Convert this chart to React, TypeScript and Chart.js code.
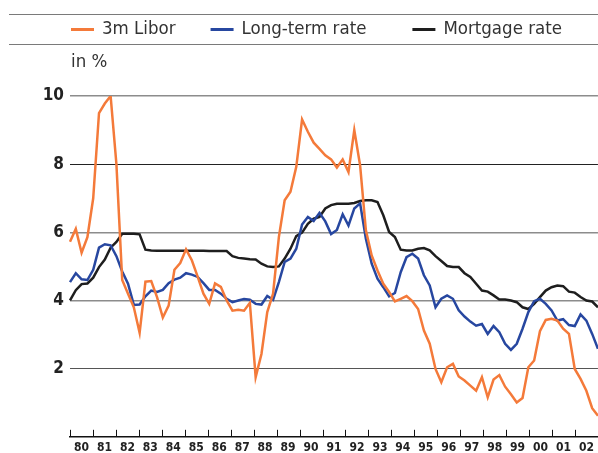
import React, { useEffect, useRef } from "react";
import { Chart, registerables } from "chart.js";

Chart.register(...registerables);

const FONT = '"DejaVu Sans Condensed", "DejaVu Sans", sans-serif';

const yearLabels = [
  "80", "81", "82", "83", "84", "85", "86", "87", "88", "89", "90", "91",
  "92", "93", "94", "95", "96", "97", "98", "99", "00", "01", "02",
];

const quarterLabels: string[] = [];
for (const y of yearLabels) {
  for (let q = 1; q <= 4; q++) quarterLabels.push(`${y}Q${q}`);
}

const libor = [
  5.72, 6.1, 5.4, 5.86, 7.0, 9.5, 9.78, 10.0,
  8.0, 4.6, 4.2, 3.8, 3.05, 4.55, 4.57, 4.1,
  3.5, 3.85, 4.9, 5.1, 5.5, 5.18, 4.7, 4.2,
  3.9, 4.5, 4.4, 4.0, 3.7, 3.73, 3.7, 3.93,
  1.75, 2.43, 3.66, 4.2, 5.86, 6.94, 7.19, 7.92,
  9.31, 8.95, 8.63, 8.45, 8.26, 8.14, 7.9, 8.14,
  7.77, 9.0, 7.97, 6.06, 5.32, 4.88, 4.49, 4.25,
  3.97, 4.05, 4.13, 3.98, 3.75, 3.12, 2.73, 1.99,
  1.6, 2.04, 2.14, 1.77, 1.65, 1.5, 1.35, 1.75,
  1.16, 1.68, 1.81, 1.47, 1.25, 1.01, 1.14, 2.04,
  2.24, 3.1, 3.43, 3.46, 3.41, 3.17, 3.02, 1.99,
  1.7, 1.35, 0.84, 0.62,
];

const longTerm = [
  4.54, 4.8, 4.62, 4.6, 4.9, 5.55, 5.65, 5.62,
  5.3, 4.85, 4.49, 3.87, 3.88, 4.12, 4.29, 4.25,
  4.31, 4.51, 4.61, 4.67, 4.8, 4.76, 4.69, 4.51,
  4.31, 4.31, 4.2, 4.05, 3.95, 4.0, 4.04, 4.02,
  3.9, 3.88, 4.13, 4.02, 4.54, 5.13, 5.23, 5.52,
  6.23, 6.45, 6.33, 6.57, 6.32, 5.95, 6.07, 6.53,
  6.2, 6.7, 6.85, 5.81, 5.08, 4.64, 4.39, 4.12,
  4.22, 4.83, 5.27, 5.37, 5.23, 4.74, 4.44, 3.8,
  4.05, 4.15, 4.05, 3.71, 3.53, 3.38, 3.26, 3.31,
  3.02, 3.25, 3.07, 2.73, 2.55, 2.73, 3.17, 3.66,
  3.98, 4.05, 3.9, 3.71, 3.41, 3.45, 3.28, 3.25,
  3.59, 3.41, 3.02, 2.58,
];

const mortgage = [
  4.0, 4.3, 4.48, 4.5, 4.67, 4.98, 5.2, 5.55,
  5.72, 5.96, 5.96, 5.96, 5.94, 5.49, 5.47, 5.46,
  5.46, 5.46, 5.46, 5.46, 5.46, 5.46, 5.46, 5.46,
  5.45, 5.45, 5.45, 5.45, 5.3, 5.25, 5.23, 5.21,
  5.2, 5.08, 5.0, 4.98, 5.0, 5.23, 5.52, 5.89,
  5.99, 6.25, 6.4, 6.45, 6.7, 6.8, 6.84, 6.84,
  6.84, 6.86, 6.92, 6.94, 6.94, 6.89, 6.5, 6.01,
  5.86, 5.49, 5.47, 5.47, 5.52, 5.54, 5.47, 5.3,
  5.16, 5.01, 4.98, 4.98, 4.8, 4.69, 4.49, 4.29,
  4.26, 4.15, 4.03, 4.03, 4.0, 3.95, 3.8, 3.75,
  3.9, 4.1, 4.29, 4.39, 4.44, 4.42, 4.26, 4.23,
  4.1, 4.0, 3.97, 3.8,
];

const seriesNames = ["3m Libor", "Long-term rate", "Mortgage rate"];
const seriesColors = ["#F47A3A", "#2747A0", "#1E1E1E"];
const unitLabel = "in %";
const legendGaps = [35, 46, 0];

const headerPlugin = {
  id: "header",
  afterDraw(chart: any) {
    const ctx = chart.ctx as CanvasRenderingContext2D;
    const area = chart.chartArea;
    ctx.save();
    // rules around legend
    ctx.strokeStyle = "#7a7a7a";
    ctx.lineWidth = 1.2;
    for (const y of [14.5, 44.5]) {
      ctx.beginPath();
      ctx.moveTo(9, y);
      ctx.lineTo(chart.width, y);
      ctx.stroke();
    }
    // legend items
    ctx.font = `18.5px ${FONT}`;
    ctx.textBaseline = "middle";
    ctx.textAlign = "left";
    let x = area.left + 1;
    const ly = 29.5;
    chart.data.datasets.forEach((ds: any, i: number) => {
      ctx.strokeStyle = ds.borderColor;
      ctx.lineWidth = 3;
      ctx.beginPath();
      ctx.moveTo(x, ly);
      ctx.lineTo(x + 23, ly);
      ctx.stroke();
      ctx.fillStyle = "#333333";
      ctx.fillText(ds.label, x + 31, ly);
      x += 31 + ctx.measureText(ds.label).width + legendGaps[i];
    });
    // unit label
    ctx.fillText(unitLabel, area.left + 1, 62);
    // upward tick marks on the year axis
    const ys = chart.scales.years;
    ctx.strokeStyle = "#111111";
    ctx.lineWidth = 1;
    for (let i = 0; i <= yearLabels.length; i++) {
      const px = Math.round(ys.getPixelForValue(i - 0.5)) + 0.5;
      ctx.beginPath();
      ctx.moveTo(px, area.bottom);
      ctx.lineTo(px, area.bottom - 7);
      ctx.stroke();
    }
    ctx.restore();
  },
};

const gridStyle: Record<number, [string, number]> = {
  10: ["#8c8c8c", 1.5],
  8: ["#222222", 1],
  6: ["#8c8c8c", 1.5],
  4: ["#8c8c8c", 1.5],
  2: ["#555555", 1],
};

export default function App() {
  const ref = useRef<HTMLCanvasElement | null>(null);
  useEffect(() => {
    document.body.style.margin = "0";
    const canvas = ref.current!;
    const chart = new Chart(canvas, {
      type: "line",
      data: {
        labels: quarterLabels,
        datasets: [
          { label: seriesNames[0], data: libor, borderColor: seriesColors[0] },
          { label: seriesNames[1], data: longTerm, borderColor: seriesColors[1] },
          { label: seriesNames[2], data: mortgage, borderColor: seriesColors[2] },
        ].map((d) => ({
          ...d,
          backgroundColor: d.borderColor,
          borderWidth: 2.5,
          pointRadius: 0,
          tension: 0,
          fill: false,
        })),
      },
      options: {
        animation: false,
        responsive: false,
        layout: { padding: { top: 96, left: 0, right: 0, bottom: 0 } },
        plugins: {
          legend: { display: false },
          tooltip: { enabled: false },
          title: { display: false },
        },
        scales: {
          x: {
            type: "category",
            display: false,
            offset: false,
          },
          years: {
            type: "category",
            labels: yearLabels,
            position: "bottom",
            offset: true,
            grid: { display: true, drawOnChartArea: false, drawTicks: false, offset: true },
            border: { display: true, color: "#111111", width: 1.5 },
            ticks: {
              autoSkip: false,
              maxRotation: 0,
              padding: 4,
              color: "#222222",
              font: { family: FONT, size: 12, weight: "bold" },
            },
            afterFit: (s: any) => {
              s.height = 16;
            },
          },
          y: {
            min: 0,
            max: 10,
            ticks: {
              stepSize: 2,
              padding: 6,
              color: "#222222",
              font: { family: FONT, size: 17, weight: "bold" },
              callback: (v: any) => (v === 0 ? "" : String(v)),
            },
            grid: {
              drawTicks: false,
              color: (c: any) => (gridStyle[c.tick?.value]?.[0] ?? "rgba(0,0,0,0)"),
              lineWidth: (c: any) => (gridStyle[c.tick?.value]?.[1] ?? 0),
            },
            border: { display: false },
            afterFit: (s: any) => {
              s.width = 70;
            },
          },
        },
      },
      plugins: [headerPlugin],
    });
    return () => chart.destroy();
  }, []);
  return (
    <div style={{ position: "fixed", left: 0, top: 0, width: 598, height: 453, background: "#fff" }}>
      <canvas ref={ref} width={598} height={453} />
    </div>
  );
}
